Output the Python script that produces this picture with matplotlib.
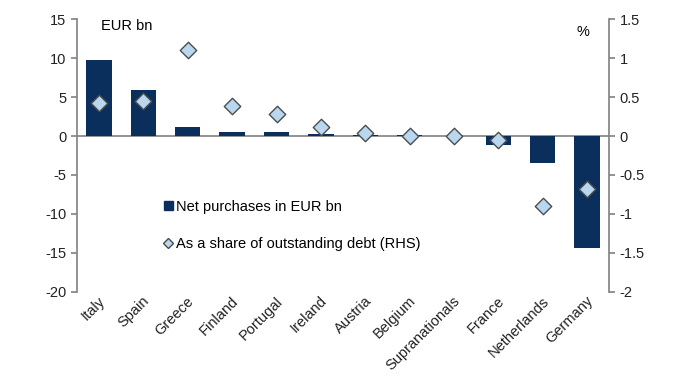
import numpy as np
import matplotlib.pyplot as plt
from matplotlib.lines import Line2D
from matplotlib.patches import Patch
from matplotlib.transforms import ScaledTranslation

plt.rcParams['font.family'] = ['Liberation Sans', 'DejaVu Sans']
plt.rcParams['axes.unicode_minus'] = False

countries = ['Italy', 'Spain', 'Greece', 'Finland', 'Portugal', 'Ireland', 'Austria',
             'Belgium', 'Supranationals', 'France', 'Netherlands', 'Germany']
net_purchases = [9.8, 5.9, 1.1, 0.5, 0.5, 0.2, 0.1, 0.1, 0.0, -1.2, -3.4, -14.4]
share_of_debt = [0.42, 0.45, 1.11, 0.39, 0.28, 0.11, 0.04, 0.0, 0.0, -0.05, -0.90, -0.68]

navy = '#0b2f5c'
light = '#b9d8f0'
grey = '#808080'

fig = plt.figure(figsize=(6.8, 3.83), dpi=100)
ax = fig.add_axes([0.113, 0.238, 0.783, 0.712])
ax2 = ax.twinx()

x = np.arange(len(countries))
ax.bar(x, net_purchases, width=0.57, color=navy, zorder=2)
ax2.scatter(x, share_of_debt, marker='D', s=70, facecolor=light, edgecolor='#4d4d4d',
            linewidth=1.0, zorder=3)

ax.set_xlim(-0.5, len(countries) - 0.5)
ax.set_ylim(-20, 15)
ax.set_yticks(range(-20, 16, 5))
ax2.set_ylim(-2, 1.5)
ax2.set_yticks([-2, -1.5, -1, -0.5, 0, 0.5, 1, 1.5])
ax2.set_yticklabels(['-2', '-1.5', '-1', '-0.5', '0', '0.5', '1', '1.5'])
ax.axhline(0, color=grey, lw=1.2, zorder=1)

for a in (ax, ax2):
    for s in ('top', 'bottom'):
        a.spines[s].set_visible(False)
    a.tick_params(axis='y', colors=grey, labelcolor='#222222', labelsize=10.5,
                  length=4, width=1.2, direction='out')
ax.spines['left'].set_color(grey)
ax.spines['left'].set_linewidth(1.2)
ax2.spines['right'].set_color(grey)
ax2.spines['right'].set_linewidth(1.2)
ax2.spines['left'].set_visible(False)
ax.spines['right'].set_visible(False)

ax.set_xticks(x)
ax.set_xticklabels(countries, rotation=45, ha='right', va='center', rotation_mode='anchor',
                   fontsize=10.5, color='#222222')
ax.tick_params(axis='x', length=0, pad=5)
shift = ScaledTranslation(4 / 100, 0, fig.dpi_scale_trans)
for lbl in ax.get_xticklabels():
    lbl.set_transform(lbl.get_transform() + shift)

ax.text(0.045, 1.0, 'EUR bn', transform=ax.transAxes, fontsize=10.5, va='top', ha='left')
ax2.text(0.95, 0.977, '%', transform=ax2.transAxes, fontsize=10.5, va='top', ha='center')

handles = [Patch(facecolor=navy, edgecolor=navy),
           Line2D([], [], marker='D', ls='none', markersize=5, markerfacecolor=light,
                  markeredgecolor='#4d4d4d')]
ax.legend(handles, ['Net purchases in EUR bn', 'As a share of outstanding debt (RHS)'],
          loc='upper left', bbox_to_anchor=(0.139, 0.385), frameon=False, fontsize=10.5,
          handlelength=0.6, handletextpad=0.2, labelspacing=1.6, handleheight=0.6)

fig.savefig('out.png', dpi=100)
